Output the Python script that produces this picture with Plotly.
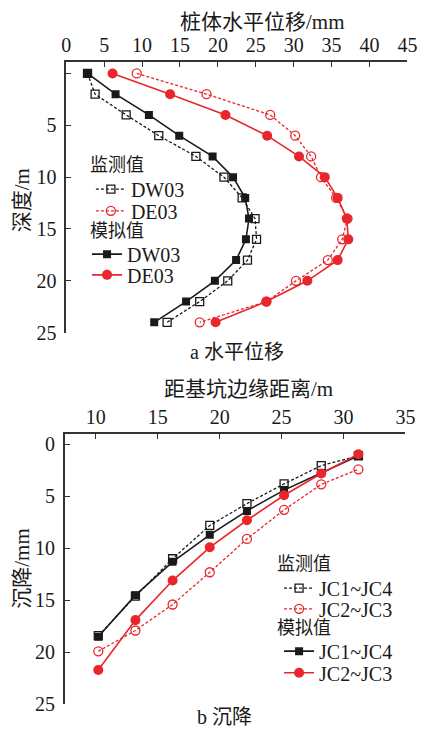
import plotly.graph_objects as go

# ---- (a) pile horizontal displacement vs depth ----
depth = [0, 2, 4, 6, 8, 10, 12, 14, 16, 18, 20, 22, 24]
dw03_measured = [2.8, 3.8, 7.9, 12.2, 17.1, 20.8, 23.2, 24.9, 25.1, 23.9, 21.3, 17.6, 13.3]
de03_measured = [9.3, 18.5, 26.9, 30.2, 32.3, 33.6, 35.6, 37.1, 36.4, 34.5, 30.3, 26.4, 17.6]
dw03_simulated = [2.8, 6.5, 10.9, 14.9, 19.3, 22.0, 23.6, 24.1, 23.7, 22.4, 19.6, 15.8, 11.6]
de03_simulated = [6.1, 13.7, 21.0, 26.5, 30.7, 34.1, 35.8, 37.0, 37.2, 35.8, 31.8, 26.4, 19.7]

# ---- (b) ground settlement vs distance from pit edge ----
distance = [10.2, 13.2, 16.2, 19.2, 22.2, 25.2, 28.2, 31.2]
jc14_measured = [18.4, 14.6, 11.0, 7.8, 5.7, 3.8, 2.05, 1.1]
jc23_measured = [19.9, 17.9, 15.4, 12.3, 9.1, 6.3, 3.85, 2.4]
jc14_simulated = [18.5, 14.5, 11.3, 8.7, 6.4, 4.4, 2.75, 1.1]
jc23_simulated = [21.7, 16.9, 13.1, 9.9, 7.3, 4.9, 2.8, 0.95]

W, H = 429, 738
RED = "#e8262b"
BLACK = "#1a1a1a"
AX = "#333333"
LAT = "'Liberation Serif', 'Times New Roman', 'Noto Sans CJK SC', serif"


def px(x):
    return x / W


def py(y):
    return 1 - y / H


fig = go.Figure()

styles = {
    "meas_black": dict(line=dict(color=BLACK, width=1.3, dash="3px,2px"),
                       marker=dict(symbol="square-open", size=8, color=BLACK, line=dict(width=1.3))),
    "meas_red": dict(line=dict(color=RED, width=1.3, dash="3px,2px"),
                     marker=dict(symbol="circle-open", size=9, color=RED, line=dict(width=1.3))),
    "sim_black": dict(line=dict(color=BLACK, width=1.6),
                      marker=dict(symbol="square", size=8, color=BLACK)),
    "sim_red": dict(line=dict(color=RED, width=1.6),
                    marker=dict(symbol="circle", size=10, color=RED)),
}

# panel (a): displacement on x, depth on y
series_a = [
    ("DW03", dw03_measured, "meas_black", "legend"),
    ("DE03", de03_measured, "meas_red", "legend2"),
    ("DW03", dw03_simulated, "sim_black", "legend3"),
    ("DE03", de03_simulated, "sim_red", "legend4"),
]
for name, vals, st, lg in series_a:
    fig.add_trace(go.Scatter(x=vals, y=depth, mode="lines+markers", name=name,
                             xaxis="x", yaxis="y", legend=lg, showlegend=True,
                             **styles[st]))

# panel (b): distance on x, settlement on y
series_b = [
    ("JC1~JC4", jc14_measured, "meas_black", "legend5"),
    ("JC2~JC3", jc23_measured, "meas_red", "legend6"),
    ("JC1~JC4", jc14_simulated, "sim_black", "legend7"),
    ("JC2~JC3", jc23_simulated, "sim_red", "legend8"),
]
for name, vals, st, lg in series_b:
    fig.add_trace(go.Scatter(x=distance, y=vals, mode="lines+markers", name=name,
                             xaxis="x2", yaxis="y2", legend=lg, showlegend=True,
                             **styles[st]))

axis_common = dict(showline=True, linecolor=AX, linewidth=1.5, ticks="inside",
                   ticklen=5, tickwidth=1.2, tickcolor=AX, showgrid=False,
                   zeroline=False, tickfont=dict(family=LAT, size=20, color=BLACK))

fig.update_layout(
    width=W, height=H, showlegend=True,
    margin=dict(l=0, r=0, t=0, b=0),
    paper_bgcolor="white", plot_bgcolor="white",
    xaxis=dict(domain=[px(63.5), px(417)], range=[0, 45], side="top", anchor="y",
               tickvals=[0, 5, 10, 15, 20, 25, 30, 35, 40, 45], **axis_common),
    yaxis=dict(domain=[py(337.7), py(63)], range=[25, -1.1], anchor="x",
               tickvals=[0, 5, 10, 15, 20, 25], ticktext=["", "5", "10", "15", "20", "25"],
               ticklabelstandoff=4, **axis_common),
    xaxis2=dict(domain=[px(62), px(415)], range=[7.5, 35], side="top", anchor="y2",
                tickvals=[10, 15, 20, 25, 30, 35], **axis_common),
    yaxis2=dict(domain=[py(715), py(440.5)], range=[25, -1], anchor="x2",
                tickvals=[0, 5, 10, 15, 20, 25], ticklabelstandoff=4, **axis_common),
)

# one legend box per entry so each row sits at its own height
legend_pos = {
    "legend": (89, 192), "legend2": (89, 214), "legend3": (85, 258), "legend4": (85, 279),
    "legend5": (284, 597), "legend6": (284, 618), "legend7": (284, 661), "legend8": (284, 683),
}
for key, (lx, ly) in legend_pos.items():
    fig.update_layout({key: dict(x=px(lx), y=py(ly), xanchor="left", yanchor="middle",
                                 bgcolor="rgba(0,0,0,0)", borderwidth=0, visible=True,
                                 font=dict(family=LAT, size=20, color=BLACK))})

texts = [
    ("桩体水平位移/mm", 267, 22, 21, 0),
    ("深度/m", 18, 203, 21, -90),
    ("a 水平位移", 240, 357, 20, 0),
    ("监测值", 116, 168, 18, 0),
    ("模拟值", 116, 234, 18, 0),
    ("距基坑边缘距离/m", 252, 395, 21, 0),
    ("沉降/mm", 18, 577, 21, -90),
    ("b 沉降", 227, 728, 20, 0),
    ("监测值", 310, 573, 18, 0),
    ("模拟值", 310, 638, 18, 0),
]
for t, x, y, s, ang in texts:
    fig.add_annotation(text=t, x=px(x), y=py(y), xref="paper", yref="paper",
                       xanchor="center", yanchor="middle", showarrow=False,
                       textangle=ang, font=dict(family=LAT, size=s, color=BLACK))

fig.write_html("out.html")
